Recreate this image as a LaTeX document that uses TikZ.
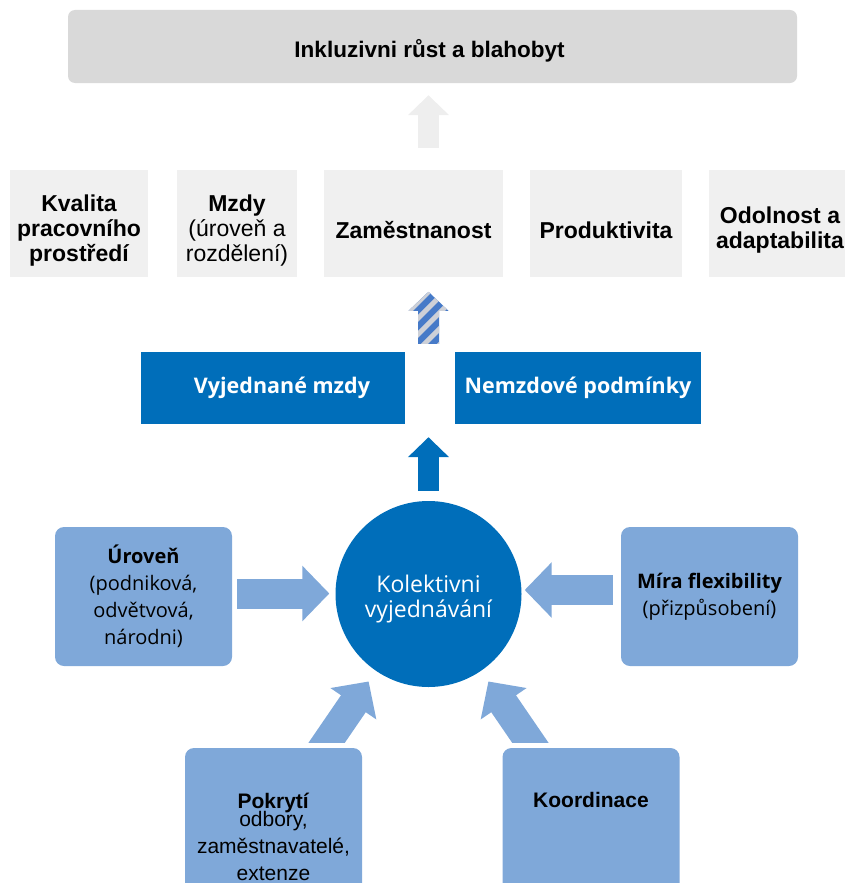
\documentclass[tikz,border=0pt]{standalone}
\usepackage{fontspec}
\setmainfont{Liberation Sans}
\newfontfamily\opensans{Open Sans}
\usetikzlibrary{arrows.meta,calc}
\definecolor{titlegray}{RGB}{217,217,217}
\definecolor{boxgray}{RGB}{240,240,240}
\definecolor{paleup}{RGB}{238,238,238}
\definecolor{darkblue}{RGB}{0,110,186}
\definecolor{lightblue}{RGB}{127,168,217}
\definecolor{stripeblue}{RGB}{70,122,200}
\definecolor{stripegray}{RGB}{205,208,215}

\begin{document}
\begin{tikzpicture}[x=1pt,y=-1pt,
  titlebox/.style={fill=titlegray,rounded corners=7pt,minimum width=729pt,minimum height=73pt},
  titletext/.style={xshift=-3pt,yshift=-4pt,font=\bfseries\fontsize{22.5}{26}\selectfont},
  graybox/.style={fill=boxgray,minimum width=#1,minimum height=107pt},
  graytext/.style={align=center,yshift=-7pt,font=\bfseries\fontsize{23}{25}\selectfont},
  bluebox/.style={fill=darkblue,text=white,minimum width=#1,minimum height=72pt,font=\opensans\bfseries\fontsize{21.5}{24}\selectfont},
  kvtext/.style={align=center,yshift=-5pt,text=white,font=\opensans\fontsize{23}{25}\selectfont},
  lightbox/.style={fill=lightblue,rounded corners=9pt,minimum width=177pt,minimum height=#1,inner sep=0pt,align=center,font=\opensans\fontsize{20}{27}\selectfont},
  uparrow/.style={line width=21pt,-{Triangle[length=20pt,width=40pt]}},
  sidearrow/.style={lightblue,line width=30pt,-{Triangle[length=27pt,width=54pt]}}]
\useasboundingbox (0,0) rectangle (845,883);

% vysledek
\node (goal) at (432.5,46.5) [titlebox,label={[titletext]center:Inkluzivni růst a blahobyt}] {};

% oblasti
\node (q1) at (79,223.5) [graybox=138pt,label={[graytext]center:Kvalita\\pracovního\\prostředí}] {};
\node (q2) at (237,223.5) [graybox=120pt,label={[graytext]center:Mzdy\\{\mdseries(úroveň a}\\{\mdseries rozdělení)}}] {};
\node (q3) at (413.5,223.5) [graybox=179pt,label={[graytext]center:Zaměstnanost}] {};
\node (q4) at (606,223.5) [graybox=152pt,label={[graytext]center:Produktivita}] {};
\node (q5) at (780,223.5) [graybox=142pt,label={[graytext]center:Odolnost a\\adaptabilita}] {};

% vystupy
\node (vm) at (273,388) [bluebox=264pt] {\hspace*{18pt}Vyjednané mzdy};
\node (nm) at (578,388) [bluebox=246pt] {Nemzdové podmínky};

% stred
\node (kv) at (428.5,594) [circle,fill=darkblue,minimum size=186pt,label={[kvtext]center:Kolektivni\\vyjednávání}] {};

% charakteristiky
\node (lvl) at (143.5,596.5) [lightbox=139pt] {\textbf{Úroveň}\\(podniková,\\odvětvová,\\národni)};
\node (flx) at (709.5,596.5) [lightbox=139pt] {\textbf{Míra flexibility}\\(přizpůsobení)};
\node (cov) at (273.5,823) [lightbox=150pt] {};
\node (crd) at (591,823) [lightbox=150pt] {};
\node (covt) at ($(cov.north)+(0,89)$) [align=center,font=\fontsize{21}{27}\selectfont] {\textbf{Pokrytí}\\[-9pt]odbory,\\zaměstnavatelé,\\extenze};
\node (crdt) at ($(crd.north)+(0,52)$) [font=\bfseries\fontsize{21}{25}\selectfont] {Koordinace};

% sipky nahoru
\draw [uparrow][paleup] ($(kv |- q3.north)+(0,-22)$) -- ($(kv |- goal.south)+(0,12)$);
\draw [uparrow][darkblue] ($(kv.north)+(0,-10)$) -- ($(kv |- vm.south)+(0,13)$);
\coordinate (sb) at ($(kv |- vm.north)+(0,-8)$);
\begin{scope}
\clip ($(sb)+(-10.5,0)$) -- ++(0,-33) -- ++(-9.5,0) -- ($(sb)+(0,-52)$) -- ($(sb)+(20,-33)$) -- ++(-9.5,0) -- ++(0,33) -- cycle;
\fill [stripeblue] ($(sb)+(-25,10)$) rectangle ($(sb)+(25,-60)$);
\foreach \k in {-5,...,5}
  \draw [stripegray,line width=5pt] ($(sb)+(16*\k-30,10)$) -- ++(70,-70);
\end{scope}

% sipky do stredu
\draw [sidearrow] ($(lvl.east)+(5,-3)$) -- ($(kv.west)+(-6,-0.5)$);
\draw [sidearrow] ($(flx.west)+(-8,-6.5)$) -- ($(kv.east)+(3,-4)$);
\coordinate (c1) at ($(cov.north)+(41.5,12)$);
\coordinate (c2) at ($(crd.north)+(-49,12)$);
\begin{scope}
\clip (0,0) rectangle (845,742);
\draw [sidearrow] (c1) -- ($(kv)!106pt!(c1)$);
\draw [sidearrow] (c2) -- ($(kv)!106pt!(c2)$);
\end{scope}
\end{tikzpicture}
\end{document}
